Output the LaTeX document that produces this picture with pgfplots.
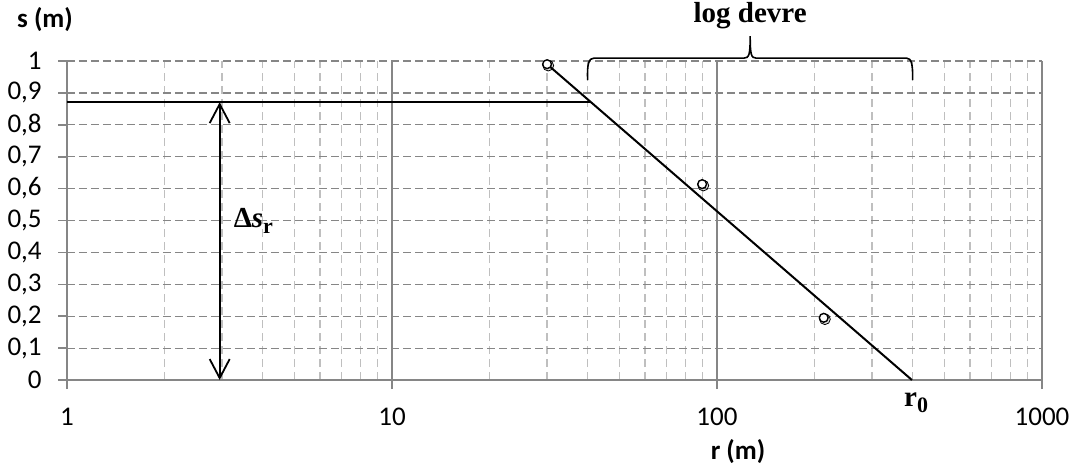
\documentclass[border=0pt]{standalone}
\usepackage{fontspec}
\setmainfont{Carlito}
\newfontfamily\serifbold{Liberation Serif}
\usepackage{pgfplots}
\pgfplotsset{compat=1.18}
\usetikzlibrary{arrows.meta}

\definecolor{gridmajor}{HTML}{868686}
\definecolor{gridminor}{HTML}{BFBFBF}

% field data: drawdown s (m) at observation distance r (m)
\pgfplotstableread{
r    s
30   0.99
90   0.614
213  0.195
}\obs

\begin{document}
\begin{tikzpicture}
\useasboundingbox (-33.5pt,-46pt) rectangle (507.5pt,190pt);
\begin{axis}[
  at={(0pt,0pt)}, anchor=south west,
  scale only axis,
  width=487.5pt, height=159.5pt,
  xmode=log,
  xmin=1, xmax=1000,
  ymin=0, ymax=1,
  axis lines*=left,
  axis line style={gridmajor, line width=0.9pt},
  tick align=outside,
  major tick length=4.5pt,
  minor tick length=0pt,
  tick style={gridmajor, line width=0.8pt},
  xtick={1,10,100,1000},
  xticklabels={1,10,100,1000},
  ytick={0,0.1,...,1.0},
  /pgf/number format/fixed,
  /pgf/number format/precision=1,
  /pgf/number format/use comma,
  /pgf/number format/assume math mode=true,
  tick label style={font=\fontsize{13.5}{15}\selectfont},
  yticklabel style={anchor=east, inner sep=0pt, xshift=-8pt},
  xticklabel style={anchor=center, inner sep=0pt, yshift=-14pt},
  xmajorgrids=true, xminorgrids=true, ymajorgrids=true,
  major x grid style={gridmajor, line width=0.7pt},
  minor x grid style={gridminor, line width=0.6pt, dash pattern=on 4pt off 2.5pt},
  major y grid style={gridmajor, line width=0.6pt, dash pattern=on 4pt off 2pt},
  clip=false,
]
% reading of s where the fitted line starts
\addplot[black, line width=0.8pt, no marks] coordinates {(1,0.871) (41,0.871)};
% straight-line fit through the first point, reaching s = 0 at r0
\addplot[black, line width=1pt, no marks] coordinates {(30,0.99) (398,0)};
% drawdown difference over one log cycle
\addplot[black, line width=0.9pt, no marks,
  {Straight Barb[length=9.5pt,width=10pt]}-{Straight Barb[length=9.5pt,width=10pt]}]
  coordinates {(2.95,0) (2.95,0.871)};
% observed points, with a soft shadow underneath
\addplot[only marks, mark=*, mark size=2.7pt,
  mark options={draw=none, fill=black, fill opacity=0.13, xshift=0.6pt, yshift=-0.7pt}]
  table[x=r, y=s] {\obs};
\addplot[only marks, mark=*, mark size=2.2pt,
  mark options={draw=black, fill=white, line width=0.7pt}]
  table[x=r, y=s] {\obs};

% brace spanning one log cycle
\draw[black, line width=0.8pt]
  (axis cs:40,0.94) .. controls (axis cs:39.8,0.99) and (axis cs:40.3,1.009) .. (axis cs:41.8,1.009)
  -- (axis cs:121,1.009) .. controls (axis cs:125.6,1.009) and (axis cs:126.5,1.02) .. (axis cs:126.5,1.078)
  .. controls (axis cs:126.5,1.02) and (axis cs:127.4,1.009) .. (axis cs:132,1.009)
  -- (axis cs:383,1.009) .. controls (axis cs:397,1.009) and (axis cs:400.5,0.99) .. (axis cs:400,0.94);
\node[font=\serifbold\bfseries\fontsize{14.5}{16}\selectfont, anchor=base]
  at (axis cs:126.5,1.122) {log devre};

\node[font=\serifbold\bfseries\fontsize{14.5}{16}\selectfont, anchor=west, inner sep=0pt]
  at (axis cs:3.25,0.5) {Δ\textit{s}\raisebox{-0.45ex}{\fontsize{11}{12}\selectfont r}};
\node[font=\serifbold\bfseries\fontsize{14.5}{16}\selectfont]
  at (axis cs:410,-0.072) {r\raisebox{-0.45ex}{\fontsize{11}{12}\selectfont 0}};
\end{axis}

\node[font=\bfseries\fontsize{13.5}{15}\selectfont] at (-11pt,180pt) {s (m)};
\node[font=\bfseries\fontsize{13.5}{15}\selectfont] at (335.5pt,-36pt) {r (m)};
\end{tikzpicture}
\end{document}
